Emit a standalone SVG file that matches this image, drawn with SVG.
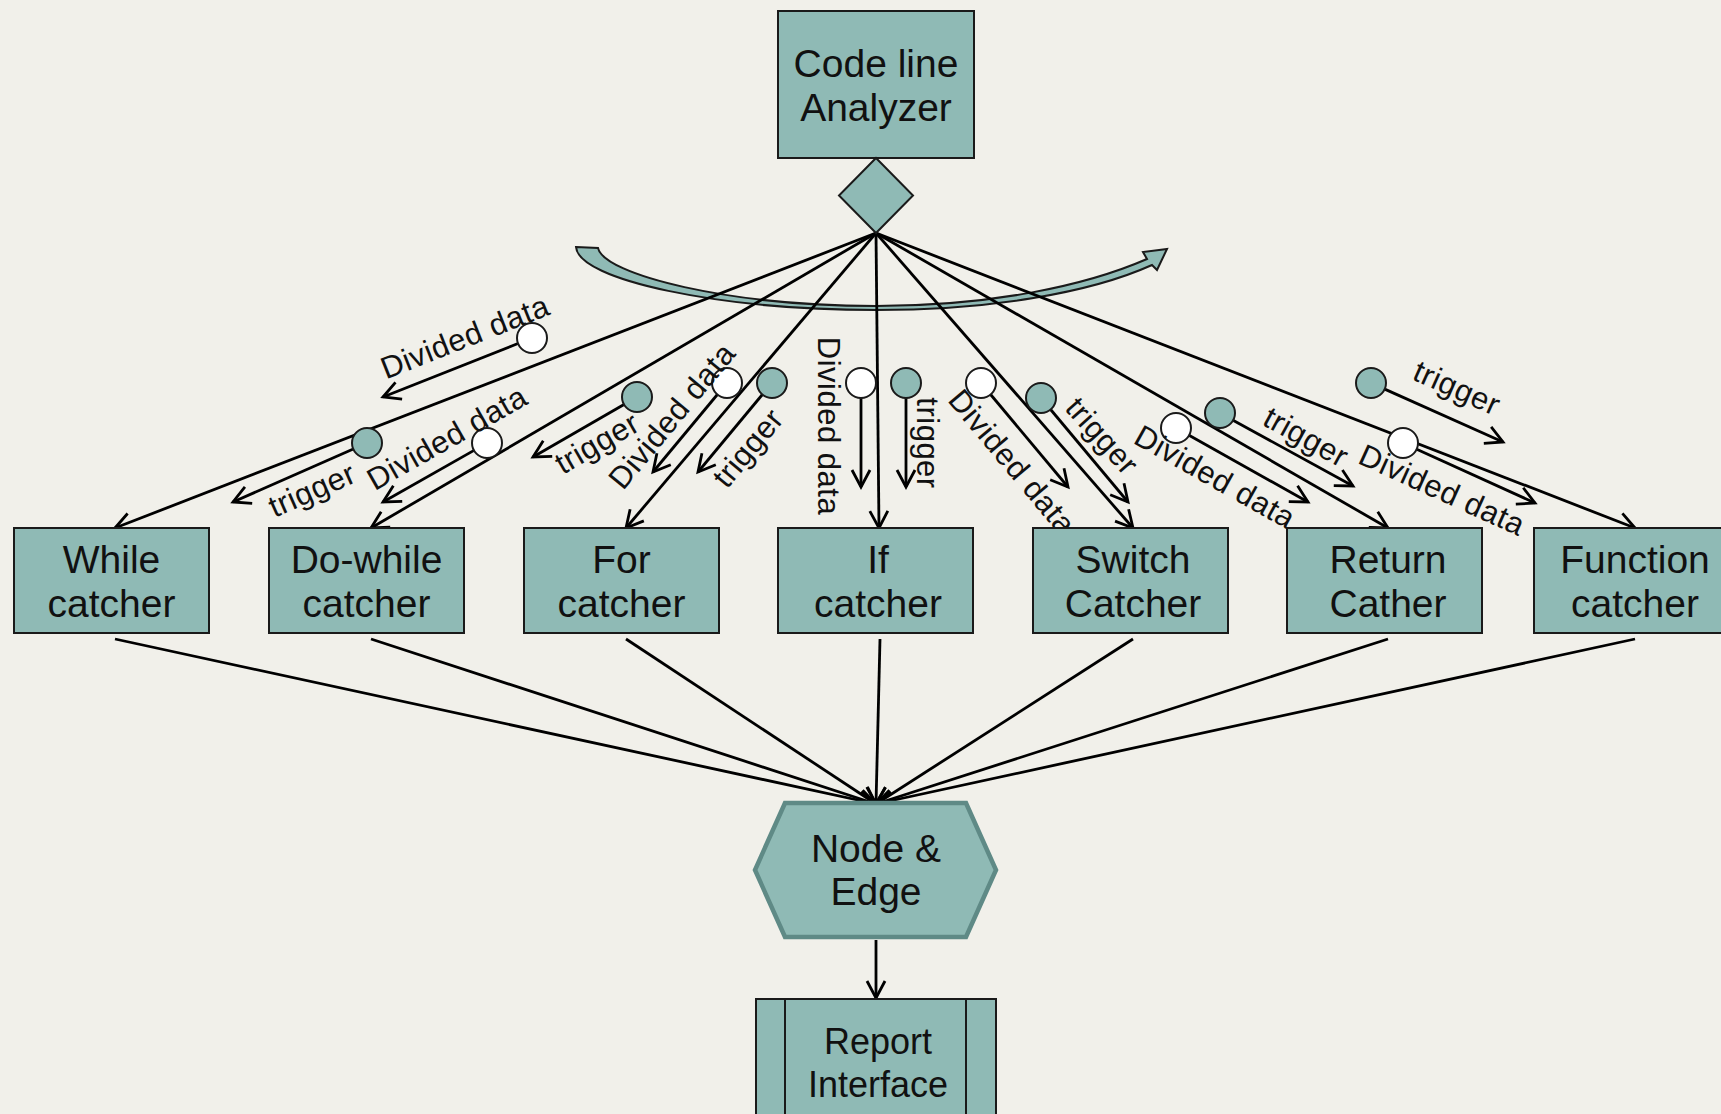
<svg xmlns="http://www.w3.org/2000/svg" width="1721" height="1114" viewBox="0 0 1721 1114">
  <style>
    .box { fill: #8fbab5; stroke: #1a1a1a; stroke-width: 2; }
    .t { font-family: "Liberation Sans", Arial, sans-serif; font-size: 39px; fill: #111; text-anchor: middle; }
    .lbl { font-family: "Liberation Sans", Arial, sans-serif; font-size: 31px; fill: #111; text-anchor: middle; dominant-baseline: central; letter-spacing: 0.5px; }
    .con { fill: none; stroke: #000; stroke-width: 2.8; marker-end: url(#arr); }
    .stick { fill: none; stroke: #000; stroke-width: 2.8; marker-end: url(#arr); }
    .trig { fill: #8fbab5; stroke: #1a1a1a; stroke-width: 2; }
    .data { fill: #ffffff; stroke: #1a1a1a; stroke-width: 2; }
  </style>
  <defs>
    <marker id="arr" markerUnits="userSpaceOnUse" markerWidth="30" markerHeight="30" viewBox="-22 -15 30 30" refX="0" refY="0" orient="auto">
      <path d="M -17,-9 L 0,0 L -17,9" fill="none" stroke="#000" stroke-width="2.8" stroke-linejoin="miter"/>
    </marker>
  </defs>

  <rect x="0" y="0" width="1721" height="1114" fill="#f1f0ea"/>

  <!-- curved arrow decoration -->
  <path id="curved-arrow" d="M 576,247 L 598,248 C 604,275 730,306 876,306 C 990,306 1085,286 1147,259 L 1143,252 L 1167,249 L 1157,270 L 1152,265 C 1090,293 990,310 876,310 C 720,310 578,280 576,247 Z" fill="#8fbab5" stroke="#1a1a1a" stroke-width="2"/>

  <g id="connectors">
    <line class="con" x1="876" y1="233" x2="115" y2="528"/>
    <line class="con" x1="876" y1="233" x2="371" y2="528"/>
    <line class="con" x1="876" y1="233" x2="626" y2="528"/>
    <line class="con" x1="876" y1="233" x2="879" y2="528"/>
    <line class="con" x1="876" y1="233" x2="1133" y2="528"/>
    <line class="con" x1="876" y1="233" x2="1388" y2="528"/>
    <line class="con" x1="876" y1="233" x2="1635" y2="528"/>

    <line class="con" x1="115" y1="639" x2="876" y2="804"/>
    <line class="con" x1="371" y1="639" x2="876" y2="804"/>
    <line class="con" x1="626" y1="639" x2="876" y2="804"/>
    <line class="con" x1="880" y1="639" x2="876" y2="804"/>
    <line class="con" x1="1133" y1="639" x2="876" y2="804"/>
    <line class="con" x1="1388" y1="639" x2="876" y2="804"/>
    <line class="con" x1="1635" y1="639" x2="876" y2="804"/>

    <line class="con" x1="876" y1="940" x2="876" y2="998"/>
  </g>

  <g id="messages">
    <g id="m1"><line class="stick" x1="518" y1="343.5" x2="383" y2="397"/><circle class="data" cx="532" cy="338" r="15"/><text class="lbl" transform="translate(465,337) rotate(-21.6)">Divided data</text></g>
    <g id="m2"><line class="stick" x1="353.3" y1="449" x2="233" y2="502"/><circle class="trig" cx="367" cy="443" r="15"/><text class="lbl" transform="translate(312,490) rotate(-23.8)">trigger</text></g>
    <g id="m3"><line class="stick" x1="474" y1="450.4" x2="383" y2="502"/><circle class="data" cx="487" cy="443" r="15"/><text class="lbl" transform="translate(447,438) rotate(-29.6)">Divided data</text></g>
    <g id="m4"><line class="stick" x1="624" y1="404.5" x2="533" y2="457"/><circle class="trig" cx="637" cy="397" r="15"/><text class="lbl" transform="translate(597,443) rotate(-30)">trigger</text></g>
    <g id="m5"><line class="stick" x1="717.4" y1="394.5" x2="653" y2="472"/><circle class="data" cx="727" cy="383" r="15"/><text class="lbl" transform="translate(672,416) rotate(-50.3)">Divided data</text></g>
    <g id="m6"><line class="stick" x1="762.4" y1="394.5" x2="698" y2="472"/><circle class="trig" cx="772" cy="383" r="15"/><text class="lbl" transform="translate(748,448) rotate(-50.3)">trigger</text></g>
    <g id="m7"><line class="stick" x1="861" y1="398" x2="861" y2="487"/><circle class="data" cx="861" cy="383" r="15"/><text class="lbl" transform="translate(828,426) rotate(90)">Divided data</text></g>
    <g id="m8"><line class="stick" x1="906" y1="398" x2="906" y2="487"/><circle class="trig" cx="906" cy="383" r="15"/><text class="lbl" transform="translate(927,443) rotate(90)">trigger</text></g>
    <g id="m9"><line class="stick" x1="990.6" y1="394.5" x2="1068" y2="487"/><circle class="data" cx="981" cy="383" r="15"/><text class="lbl" transform="translate(1012,462) rotate(50)">Divided data</text></g>
    <g id="m10"><line class="stick" x1="1050.6" y1="409.5" x2="1128" y2="502"/><circle class="trig" cx="1041" cy="398" r="15"/><text class="lbl" transform="translate(1102,436) rotate(48)">trigger</text></g>
    <g id="m11"><line class="stick" x1="1189" y1="435.3" x2="1308" y2="502"/><circle class="data" cx="1176" cy="428" r="15"/><text class="lbl" transform="translate(1215,477) rotate(29.3)">Divided data</text></g>
    <g id="m12"><line class="stick" x1="1233" y1="420.2" x2="1353" y2="486"/><circle class="trig" cx="1220" cy="413" r="15"/><text class="lbl" transform="translate(1306,437) rotate(28.8)">trigger</text></g>
    <g id="m13"><line class="stick" x1="1416.7" y1="449.2" x2="1535" y2="503"/><circle class="data" cx="1403" cy="443" r="15"/><text class="lbl" transform="translate(1442,490) rotate(24.4)">Divided data</text></g>
    <g id="m14"><line class="stick" x1="1384.7" y1="389.1" x2="1503" y2="442"/><circle class="trig" cx="1371" cy="383" r="15"/><text class="lbl" transform="translate(1457,388) rotate(24)">trigger</text></g>
  </g>

  <g id="analyzer">
    <rect class="box" x="778" y="11" width="196" height="147"/>
    <text class="t" x="876" y="77">Code line</text>
    <text class="t" x="876" y="121">Analyzer</text>
  </g>
  <g id="decision">
    <polygon class="box" points="876,158 913,195.5 876,233 839,195.5"/>
  </g>

  <g id="while">
    <rect class="box" x="14" y="528" width="195" height="105"/>
    <text class="t" x="111.5" y="573">While</text>
    <text class="t" x="111.5" y="617">catcher</text>
  </g>
  <g id="dowhile">
    <rect class="box" x="269" y="528" width="195" height="105"/>
    <text class="t" x="366.5" y="573">Do-while</text>
    <text class="t" x="366.5" y="617">catcher</text>
  </g>
  <g id="for">
    <rect class="box" x="524" y="528" width="195" height="105"/>
    <text class="t" x="621.5" y="573">For</text>
    <text class="t" x="621.5" y="617">catcher</text>
  </g>
  <g id="if">
    <rect class="box" x="778" y="528" width="195" height="105"/>
    <text class="t" x="878" y="573">If</text>
    <text class="t" x="878" y="617">catcher</text>
  </g>
  <g id="switch">
    <rect class="box" x="1033" y="528" width="195" height="105"/>
    <text class="t" x="1133" y="573">Switch</text>
    <text class="t" x="1133" y="617">Catcher</text>
  </g>
  <g id="return">
    <rect class="box" x="1287" y="528" width="195" height="105"/>
    <text class="t" x="1388" y="573">Return</text>
    <text class="t" x="1388" y="617">Cather</text>
  </g>
  <g id="function">
    <rect class="box" x="1534" y="528" width="195" height="105"/>
    <text class="t" x="1635" y="573">Function</text>
    <text class="t" x="1635" y="617">catcher</text>
  </g>

  <g id="node-edge">
    <polygon points="785,803 966,803 996,870 966,937 785,937 755,870" fill="#8fbab5" stroke="#5f8a86" stroke-width="4.5" stroke-linejoin="miter"/>
    <text class="t" x="876" y="862">Node &amp;</text>
    <text class="t" x="876" y="905">Edge</text>
  </g>

  <g id="report">
    <rect class="box" x="756" y="999" width="240" height="140"/>
    <line x1="785" y1="999" x2="785" y2="1139" stroke="#1a1a1a" stroke-width="2"/>
    <line x1="966" y1="999" x2="966" y2="1139" stroke="#1a1a1a" stroke-width="2"/>
    <text class="t" x="878" y="1054" style="font-size:36px">Report</text>
    <text class="t" x="878" y="1097" style="font-size:36px">Interface</text>
  </g>
</svg>
